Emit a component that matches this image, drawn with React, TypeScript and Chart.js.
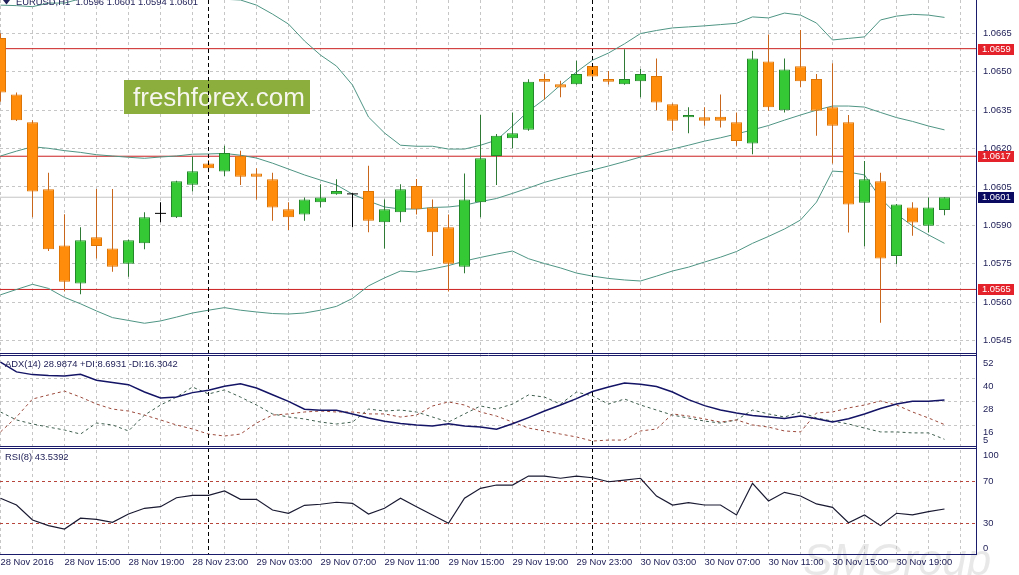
import React, { useEffect, useRef } from 'react';
import { Chart, registerables } from 'chart.js';

Chart.register(...registerables);

// ---------------- data ----------------
const SYMBOL = 'EURUSD,H1';
const TIME_LABELS = [
  '28 Nov 2016', '28 Nov 15:00', '28 Nov 19:00', '28 Nov 23:00', '29 Nov 03:00',
  '29 Nov 07:00', '29 Nov 11:00', '29 Nov 15:00', '29 Nov 19:00', '29 Nov 23:00',
  '30 Nov 03:00', '30 Nov 07:00', '30 Nov 11:00', '30 Nov 15:00', '30 Nov 19:00',
];
// bar index of 29 Nov 00:00 and 30 Nov 00:00 (period separators)
const DAY_BREAKS = [13, 37];

const OPEN = [
  1.06632, 1.06411, 1.06303, 1.06041, 1.05822, 1.05673, 1.05854, 1.05810, 1.05750, 1.05830,
  1.05947, 1.05932, 1.06059, 1.06142, 1.06110, 1.06172, 1.06103, 1.06080, 1.05963, 1.05943,
  1.05990, 1.06022, 1.06023, 1.06034, 1.05912, 1.05951, 1.06054, 1.05970, 1.05893, 1.05739,
  1.05990, 1.06171, 1.06240, 1.06273, 1.06472, 1.06451, 1.06451, 1.06522, 1.06472, 1.06451,
  1.06463, 1.06483, 1.06373, 1.06322, 1.06322, 1.06324, 1.06303, 1.06220, 1.06540, 1.06350,
  1.06521, 1.06472, 1.06361, 1.06303, 1.05988, 1.06072, 1.05781, 1.05970, 1.05899, 1.05960,
];
const HIGH = [
  1.06650, 1.06419, 1.06311, 1.06106, 1.05944, 1.05893, 1.06042, 1.06042, 1.05845, 1.05951,
  1.05990, 1.06074, 1.06168, 1.06155, 1.06211, 1.06191, 1.06123, 1.06106, 1.05990, 1.06009,
  1.06061, 1.06080, 1.06026, 1.06133, 1.06001, 1.06061, 1.06081, 1.06001, 1.05943, 1.06103,
  1.06331, 1.06257, 1.06341, 1.06471, 1.06491, 1.06465, 1.06543, 1.06527, 1.06503, 1.06588,
  1.06511, 1.06552, 1.06376, 1.06361, 1.06361, 1.06411, 1.06341, 1.06582, 1.06645, 1.06552,
  1.06663, 1.06491, 1.06533, 1.06331, 1.06151, 1.06106, 1.05984, 1.05990, 1.06009, 1.06010,
];
const LOW = [
  1.06383, 1.06308, 1.05932, 1.05800, 1.05642, 1.05631, 1.05771, 1.05719, 1.05700, 1.05807,
  1.05912, 1.05929, 1.06032, 1.06108, 1.06093, 1.06058, 1.06001, 1.05918, 1.05882, 1.05918,
  1.05970, 1.06020, 1.05893, 1.05873, 1.05810, 1.05912, 1.05943, 1.05781, 1.05642, 1.05713,
  1.05932, 1.06058, 1.06201, 1.06270, 1.06392, 1.06400, 1.06449, 1.06478, 1.06450, 1.06449,
  1.06400, 1.06350, 1.06270, 1.06260, 1.06289, 1.06282, 1.06211, 1.06178, 1.06348, 1.06341,
  1.06439, 1.06250, 1.06142, 1.05872, 1.05819, 1.05520, 1.05749, 1.05860, 1.05872, 1.05940,
];
const CLOSE = [
  1.06419, 1.06311, 1.06032, 1.05807, 1.05680, 1.05842, 1.05820, 1.05739, 1.05842, 1.05932,
  1.05947, 1.06072, 1.06111, 1.06123, 1.06183, 1.06090, 1.06090, 1.05970, 1.05932, 1.06001,
  1.06009, 1.06034, 1.06023, 1.05918, 1.05963, 1.06041, 1.05963, 1.05873, 1.05750, 1.06001,
  1.06162, 1.06250, 1.06260, 1.06461, 1.06461, 1.06438, 1.06491, 1.06481, 1.06461, 1.06472,
  1.06491, 1.06380, 1.06309, 1.06331, 1.06309, 1.06309, 1.06230, 1.06552, 1.06361, 1.06509,
  1.06463, 1.06348, 1.06289, 1.05982, 1.06080, 1.05771, 1.05982, 1.05911, 1.05970, 1.06010,
];

const BB_UPPER = [
  1.06760, 1.06758, 1.06754, 1.06768, 1.06768, 1.06785, 1.06795, 1.06808, 1.06807, 1.06806,
  1.06803, 1.06797, 1.06798, 1.06789, 1.06783, 1.06780, 1.06760, 1.06725, 1.06686, 1.06620,
  1.06565, 1.06522, 1.06448, 1.06323, 1.06261, 1.06213, 1.06209, 1.06209, 1.06198, 1.06198,
  1.06213, 1.06233, 1.06288, 1.06346, 1.06393, 1.06448, 1.06499, 1.06545, 1.06573, 1.06609,
  1.06649, 1.06661, 1.06671, 1.06675, 1.06679, 1.06684, 1.06689, 1.06714, 1.06710, 1.06729,
  1.06721, 1.06690, 1.06624, 1.06630, 1.06636, 1.06702, 1.06717, 1.06724, 1.06721, 1.06712,
];
const BB_MIDDLE = [
  1.06171, 1.06190, 1.06207, 1.06201, 1.06192, 1.06185, 1.06176, 1.06171, 1.06166, 1.06162,
  1.06167, 1.06171, 1.06178, 1.06179, 1.06181, 1.06174, 1.06163, 1.06143, 1.06120, 1.06097,
  1.06077, 1.06058, 1.06022, 1.05995, 1.05972, 1.05964, 1.05964, 1.05970, 1.05972, 1.05979,
  1.05993, 1.06005, 1.06025, 1.06046, 1.06068, 1.06085, 1.06101, 1.06116, 1.06132, 1.06149,
  1.06167, 1.06184, 1.06198, 1.06213, 1.06229, 1.06242, 1.06257, 1.06273, 1.06290, 1.06311,
  1.06331, 1.06350, 1.06366, 1.06366, 1.06362, 1.06341, 1.06321, 1.06306, 1.06288, 1.06273,
];
const BB_LOWER = [
  1.05629, 1.05650, 1.05670, 1.05654, 1.05619, 1.05594, 1.05566, 1.05540, 1.05529, 1.05518,
  1.05527, 1.05542, 1.05558, 1.05569, 1.05579, 1.05569, 1.05562, 1.05556, 1.05554, 1.05558,
  1.05569, 1.05584, 1.05615, 1.05664, 1.05695, 1.05722, 1.05718, 1.05730, 1.05743, 1.05761,
  1.05775, 1.05788, 1.05800, 1.05770, 1.05751, 1.05734, 1.05714, 1.05702, 1.05693, 1.05687,
  1.05683, 1.05702, 1.05722, 1.05737, 1.05757, 1.05776, 1.05798, 1.05830, 1.05857, 1.05886,
  1.05921, 1.05991, 1.06112, 1.06108, 1.06097, 1.06006, 1.05944, 1.05898, 1.05863, 1.05830,
];

const LEVELS = [1.0659, 1.0617, 1.0565];
const PRICE_TICKS = [1.0545, 1.056, 1.0575, 1.059, 1.0605, 1.062, 1.0635, 1.065, 1.0665];
const PRICE_MIN = 1.05396;
const PRICE_MAX = 1.0678;

const ADX = [
  48.6, 43.5, 42.1, 41.6, 41.4, 42.3, 39.2, 38.0, 36.9, 33.1,
  30.0, 30.5, 32.8, 34.0, 36.1, 37.4, 35.2, 31.7, 28.3, 24.2,
  23.7, 23.7, 21.8, 19.7, 18.0, 16.9, 16.1, 15.6, 16.7, 15.6,
  15.0, 13.9, 16.7, 19.9, 23.3, 26.4, 29.7, 33.4, 35.7, 37.8,
  37.1, 36.0, 33.1, 29.2, 26.1, 23.8, 22.3, 21.0, 20.2, 19.4,
  20.7, 19.3, 17.6, 19.3, 21.8, 24.6, 26.9, 28.3, 28.3, 28.9874,
];
const PLUS_DI = [
  22.8, 18.7, 16.6, 15.0, 13.5, 11.4, 17.1, 16.1, 13.0, 21.2,
  26.4, 30.5, 35.7, 32.1, 34.2, 30.5, 26.4, 21.8, 20.2, 19.2,
  17.6, 16.6, 17.6, 24.3, 23.3, 23.8, 22.8, 20.2, 17.6, 21.8,
  25.9, 24.3, 26.9, 31.6, 30.5, 26.9, 33.1, 31.1, 26.9, 29.5,
  26.4, 23.8, 21.2, 19.7, 18.1, 17.1, 18.7, 23.8, 21.8, 20.2,
  22.8, 19.7, 18.1, 16.6, 14.5, 12.5, 12.5, 12.0, 12.0, 8.6931,
];
const MINUS_DI = [
  12.5, 20.2, 29.5, 31.6, 33.6, 30.5, 26.9, 24.3, 23.3, 21.2,
  18.7, 16.1, 14.0, 11.4, 10.4, 11.4, 17.1, 21.2, 21.8, 22.8,
  23.3, 22.8, 22.8, 21.8, 21.8, 20.2, 21.2, 25.9, 28.0, 26.4,
  22.8, 20.7, 17.6, 14.5, 13.0, 11.4, 9.9, 7.8, 8.3, 8.3,
  13.0, 14.0, 21.8, 20.7, 19.2, 17.6, 18.7, 16.1, 15.0, 13.0,
  12.5, 22.3, 22.8, 24.9, 26.4, 28.5, 26.4, 22.8, 19.7, 16.3042,
];
const ADX_LABELS = [52, 40, 28, 16, 5];
const ADX_GRID = [40, 28, 16];
const ADX_MIN = 4.46;
const ADX_MAX = 52.49;

const RSI = [
  53.7, 47.3, 33.1, 27.8, 24.6, 34.8, 33.8, 31.0, 38.8, 44.2,
  45.7, 54.2, 56.5, 56.5, 60.6, 52.7, 52.7, 42.6, 39.5, 47.0,
  48.0, 49.9, 48.9, 38.8, 44.2, 53.7, 45.7, 37.9, 30.0, 53.7,
  63.1, 66.2, 66.2, 74.7, 74.7, 72.6, 74.7, 73.1, 69.3, 70.9,
  72.6, 55.8, 47.3, 49.5, 47.3, 47.3, 37.9, 67.8, 51.1, 59.3,
  55.8, 48.3, 45.1, 30.6, 37.9, 27.8, 39.5, 37.9, 41.0, 43.5392,
];
const RSI_LABELS = [100, 70, 30, 0];
const RSI_LEVELS = [70, 30];
const RSI_MIN = 0.97;
const RSI_MAX = 101.7;

// ---------------- styling / layout ----------------
const W = 1019;
const H = 575;
const PANE_MAIN = 354.5;
const PANE_ADX = 93;
const PANE_RSI = 106.5;
const X_MIN = -0.03125;
const X_MAX = 60.96875;
const FONT_FAMILY = "'Liberation Sans', Arial, Helvetica, sans-serif";
const FONT_SIZE = 9.4;
const TEXT = '#22225a';
const NAVY = '#1b1b6b';
const GRID = '#c6c6c6';
const BULL_FILL = '#35c935';
const BULL_EDGE = '#23882a';
const BULL_WICK = '#2f7a34';
const BEAR_FILL = '#ff8c0a';
const BEAR_EDGE = '#dd7406';
const BEAR_WICK = '#c8671c';
const BAND = '#4f9584';
const LEVEL = '#cc2020';
const LEVEL_TAG = '#e3222b';
const LAST_TAG = '#0b0b62';
const LAST_LINE = '#c4c4c4';
const RSI_LEVEL = '#b8453c';

export default function App() {
  const ref = useRef<HTMLCanvasElement | null>(null);

  useEffect(() => {
    const canvas = ref.current;
    if (!canvas) return;
    const n = OPEN.length;
    const last = n - 1;
    const idx = Array.from({ length: n }, (_, i) => i);
    const isDoji = (i: number) => OPEN[i] === CLOSE[i];
    const isBull = (i: number) => CLOSE[i] > OPEN[i];
    const bodyIdx = idx.filter((i) => !isDoji(i));
    const pts = (arr: number[]) => arr.map((y, i) => ({ x: i, y }));
    const font = { family: FONT_FAMILY, size: FONT_SIZE };

    const hline = (value: number, color: string, order: number) => ({
      type: 'line',
      data: [{ x: X_MIN, y: value }, { x: X_MAX, y: value }],
      borderColor: color,
      borderWidth: 1,
      pointRadius: 0,
      order,
      yAxisID: 'y',
    });

    const lineSet = (arr: number[], color: string, yAxisID: string, width: number, dash: number[] = [], order = 4) => ({
      type: 'line',
      data: pts(arr),
      borderColor: color,
      borderWidth: width,
      borderDash: dash,
      pointRadius: 0,
      tension: 0,
      order,
      yAxisID,
    });

    // keep the extreme labels inside their pane (as the terminal does)
    const clampTick = (min: number, max: number, pane: number, v: number, topPx: number, bottomPx: number) => {
      const upp = (max - min) / pane;
      return Math.min(Math.max(v, min + bottomPx * upp), max - topPx * upp);
    };

    const decor = {
      id: 'mt4decor',
      beforeDraw(c: any) {
        const ctx = c.ctx;
        ctx.save();
        ctx.fillStyle = '#ffffff';
        ctx.fillRect(0, 0, c.width, c.height);
        ctx.font = `italic 44px ${FONT_FAMILY}`;
        ctx.fillStyle = 'rgba(214,214,214,0.55)';
        ctx.textBaseline = 'alphabetic';
        ctx.fillText('SMGroup', 803, 575);
        ctx.restore();
      },
      beforeDatasetsDraw(c: any) {
        const ctx = c.ctx;
        ctx.save();
        ctx.fillStyle = '#8cae3c';
        ctx.fillRect(124, 80, 186, 34);
        ctx.fillStyle = '#f6f6ee';
        ctx.font = `26px ${FONT_FAMILY}`;
        ctx.textBaseline = 'alphabetic';
        ctx.fillText('freshforex.com', 133, 106);
        ctx.restore();
      },
      afterDatasetsDraw(c: any) {
        const { ctx, chartArea, scales } = c;
        ctx.save();
        ctx.strokeStyle = '#000000';
        ctx.lineWidth = 1;
        ctx.setLineDash([4, 3]);
        DAY_BREAKS.forEach((i) => {
          const x = Math.round(scales.x.getPixelForValue(i) - 0.5) + 0.5;
          ctx.beginPath();
          ctx.moveTo(x, chartArea.top);
          ctx.lineTo(x, chartArea.bottom);
          ctx.stroke();
        });
        ctx.restore();
      },
      afterDraw(c: any) {
        const { ctx, chartArea, scales } = c;
        ctx.save();
        ctx.strokeStyle = NAVY;
        ctx.lineWidth = 1;
        [scales.y.bottom, scales.yAdx.bottom].forEach((b: number) => {
          const r = Math.round(b);
          [r - 1.5, r + 0.5].forEach((yy) => {
            ctx.beginPath();
            ctx.moveTo(0, yy);
            ctx.lineTo(chartArea.right + 1, yy);
            ctx.stroke();
          });
        });

        ctx.font = `${FONT_SIZE}px ${FONT_FAMILY}`;
        ctx.textBaseline = 'middle';
        const tag = (v: number, bg: string) => {
          const y = Math.round(scales.y.getPixelForValue(v));
          ctx.fillStyle = bg;
          ctx.fillRect(chartArea.right + 2, y - 5, 36, 11);
          ctx.fillStyle = '#ffffff';
          ctx.fillText(v.toFixed(4), chartArea.right + 6, y + 0.5);
        };
        LEVELS.forEach((v) => tag(v, LEVEL_TAG));
        tag(CLOSE[last], LAST_TAG);

        ctx.fillStyle = TEXT;
        ctx.textBaseline = 'alphabetic';
        ctx.fillText(
          `${SYMBOL}  ${OPEN[last].toFixed(4)} ${HIGH[last].toFixed(4)} ${LOW[last].toFixed(4)} ${CLOSE[last].toFixed(4)}`,
          16, 5,
        );
        ctx.beginPath();
        ctx.moveTo(3, 0);
        ctx.lineTo(10, 0);
        ctx.lineTo(6.5, 4.5);
        ctx.closePath();
        ctx.fill();

        ctx.textBaseline = 'middle';
        ctx.fillText(
          `ADX(14) ${ADX[last].toFixed(4)} +DI:${PLUS_DI[last].toFixed(4)} -DI:${MINUS_DI[last].toFixed(4)}`,
          5, scales.yAdx.top + 10.3,
        );
        ctx.fillText(`RSI(8) ${RSI[last].toFixed(4)}`, 5, scales.yRsi.top + 10.3);
        ctx.restore();
      },
    };

    const zeroPad = (s: any) => {
      s.paddingLeft = 0;
      s.paddingRight = 0;
      s.paddingTop = 0;
      s.paddingBottom = 0;
    };

    const chart = new Chart(canvas, {
      type: 'bar',
      data: {
        datasets: [
          {
            type: 'bar',
            data: idx.map((i) => ({ x: i, y: [LOW[i], HIGH[i]] })),
            backgroundColor: idx.map((i) => (isDoji(i) ? '#000000' : isBull(i) ? BULL_WICK : BEAR_WICK)),
            borderWidth: 0,
            barThickness: 1,
            grouped: false,
            inflateAmount: 0,
            order: 3,
            yAxisID: 'y',
          },
          {
            type: 'bar',
            data: bodyIdx.map((i) => ({ x: i, y: [Math.min(OPEN[i], CLOSE[i]), Math.max(OPEN[i], CLOSE[i])] })),
            backgroundColor: bodyIdx.map((i) => (isBull(i) ? BULL_FILL : BEAR_FILL)),
            borderColor: bodyIdx.map((i) => (isBull(i) ? BULL_EDGE : BEAR_EDGE)),
            borderWidth: 1,
            borderSkipped: false,
            barThickness: 11,
            minBarLength: 1,
            grouped: false,
            inflateAmount: 0,
            order: 1,
            yAxisID: 'y',
          },
          {
            type: 'line',
            data: idx.filter(isDoji).map((i) => ({ x: i, y: OPEN[i] })),
            showLine: false,
            pointStyle: 'line',
            pointRadius: 5.5,
            pointBorderColor: '#000000',
            pointBorderWidth: 1,
            order: 0,
            yAxisID: 'y',
          },
          lineSet(BB_UPPER, BAND, 'y', 1, [], 5),
          lineSet(BB_MIDDLE, BAND, 'y', 1, [], 5),
          lineSet(BB_LOWER, BAND, 'y', 1, [], 5),
          ...LEVELS.map((v) => hline(v, LEVEL, 6)),
          hline(CLOSE[last], LAST_LINE, 7),
          lineSet(MINUS_DI, '#9c4a3c', 'yAdx', 1, [3, 3], 4),
          lineSet(PLUS_DI, '#3f5f4f', 'yAdx', 1, [3, 3], 4),
          lineSet(ADX, '#141466', 'yAdx', 1.5, [], 3),
          lineSet(RSI, '#1a1a33', 'yRsi', 1.2, [], 3),
        ] as any,
      },
      options: {
        responsive: false,
        animation: false,
        devicePixelRatio: 1,
        events: [],
        layout: { padding: 0, autoPadding: false },
        plugins: { legend: { display: false }, tooltip: { enabled: false }, title: { display: false } },
        scales: {
          x: {
            type: 'linear',
            position: 'bottom',
            min: X_MIN,
            max: X_MAX,
            bounds: 'data',
            offset: false,
            grid: { color: GRID, drawTicks: false, offset: false },
            border: { display: true, color: NAVY, width: 1, dash: [3, 3] },
            ticks: {
              autoSkip: false,
              maxRotation: 0,
              minRotation: 0,
              align: 'start',
              padding: 3,
              color: TEXT,
              font,
              callback: (v: any) => {
                const k = Number(v);
                return k % 4 === 0 && TIME_LABELS[k / 4] ? TIME_LABELS[k / 4] : '';
              },
            },
            afterBuildTicks: (s: any) => {
              const t = [];
              for (let v = 0; v <= 60; v += 2) t.push({ value: v });
              s.ticks = t;
            },
            afterFit: (s: any) => {
              s.height = 21;
              zeroPad(s);
            },
          },
          y: {
            type: 'linear',
            position: 'right',
            stack: 'panes',
            stackWeight: PANE_MAIN,
            min: PRICE_MIN,
            max: PRICE_MAX,
            bounds: 'data',
            grid: { color: GRID, drawTicks: false },
            border: { display: true, color: NAVY, width: 1, dash: [3, 3] },
            ticks: { autoSkip: false, padding: 7, color: TEXT, font, callback: (v: any) => Number(v).toFixed(4) },
            afterBuildTicks: (s: any) => {
              s.ticks = PRICE_TICKS.map((v) => ({ value: v }));
            },
            afterFit: (s: any) => {
              s.width = 43;
              zeroPad(s);
            },
          },
          yAdx: {
            type: 'linear',
            position: 'right',
            stack: 'panes',
            stackWeight: PANE_ADX,
            min: ADX_MIN,
            max: ADX_MAX,
            bounds: 'data',
            grid: {
              drawTicks: false,
              color: (ctx: any) => (ctx.tick && ADX_GRID.includes(ctx.tick.value) ? GRID : 'rgba(0,0,0,0)'),
            },
            border: { display: true, color: NAVY, width: 1, dash: [3, 3] },
            ticks: {
              autoSkip: false,
              padding: 7,
              labelOffset: 7.5,
              color: TEXT,
              font,
              callback: (_v: any, i: number) => String(ADX_LABELS[i]),
            },
            afterBuildTicks: (s: any) => {
              s.ticks = ADX_LABELS.map((v) => ({ value: clampTick(ADX_MIN, ADX_MAX, PANE_ADX, v, 0, 14.5) }));
            },
            afterFit: (s: any) => {
              s.width = 43;
              zeroPad(s);
            },
          },
          yRsi: {
            type: 'linear',
            position: 'right',
            stack: 'panes',
            stackWeight: PANE_RSI,
            min: RSI_MIN,
            max: RSI_MAX,
            bounds: 'data',
            grid: {
              drawTicks: false,
              color: (ctx: any) => (ctx.tick && RSI_LEVELS.includes(ctx.tick.value) ? RSI_LEVEL : 'rgba(0,0,0,0)'),
            },
            border: { display: true, color: NAVY, width: 1, dash: [3, 3] },
            ticks: {
              autoSkip: false,
              padding: 7,
              color: TEXT,
              font,
              callback: (_v: any, i: number) => String(RSI_LABELS[i]),
            },
            afterBuildTicks: (s: any) => {
              s.ticks = RSI_LABELS.map((v) => ({ value: clampTick(RSI_MIN, RSI_MAX, PANE_RSI, v, 8, 5.5) }));
            },
            afterFit: (s: any) => {
              s.width = 43;
              zeroPad(s);
            },
          },
        },
      } as any,
      plugins: [decor as any],
    });

    return () => chart.destroy();
  }, []);

  return (
    <div style={{ position: 'fixed', left: 0, top: 0, width: W, height: H, background: '#ffffff' }}>
      <canvas ref={ref} width={W} height={H} style={{ display: 'block', width: W, height: H }} />
    </div>
  );
}
